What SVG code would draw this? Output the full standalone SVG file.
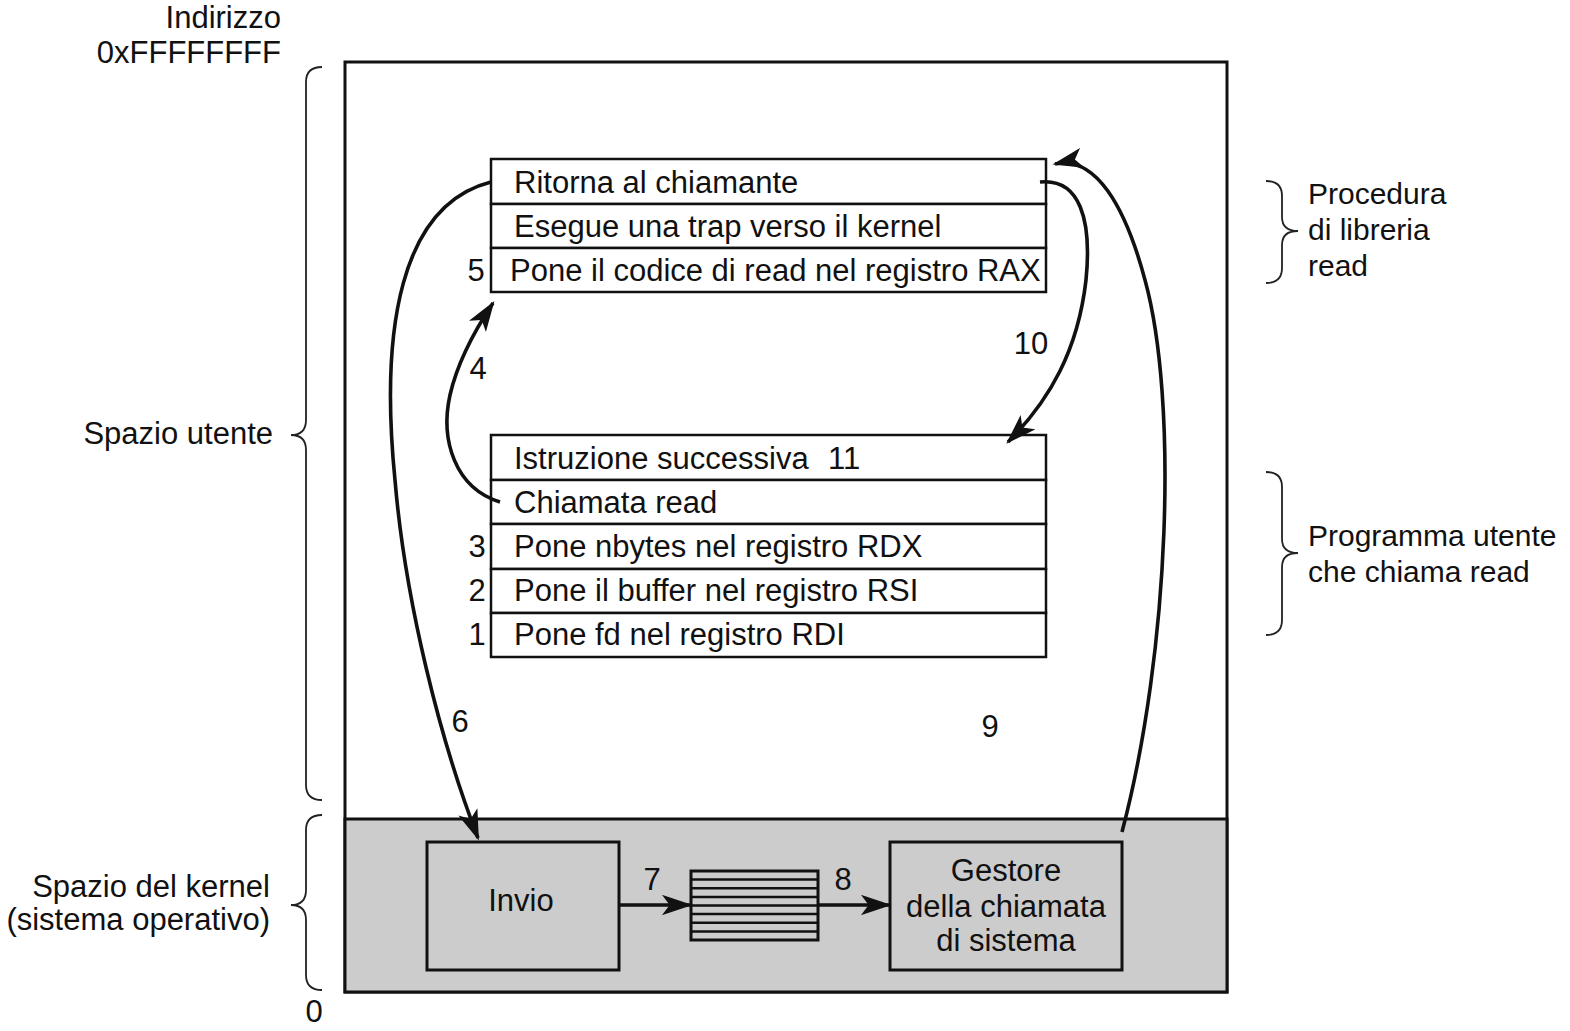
<svg xmlns="http://www.w3.org/2000/svg" width="1570" height="1031" viewBox="0 0 1570 1031">
<style>
text{font-family:"Liberation Sans",Arial,sans-serif;font-size:31px;fill:#111}
.r{font-size:30px}
.box{fill:none;stroke:#111;stroke-width:3}
.cell{fill:#fff;stroke:#111;stroke-width:2.5}
.k{fill:#cccccc;stroke:#111;stroke-width:3}
.brace{fill:none;stroke:#222;stroke-width:1.8}
.arr{fill:none;stroke:#111;stroke-width:3.6;marker-end:url(#ah)}
.mid{text-anchor:middle}
.end{text-anchor:end}
</style>
<defs>
<marker id="ah" viewBox="0 0 12 8" refX="11" refY="4" markerWidth="8.5" markerHeight="5.7" markerUnits="strokeWidth" orient="auto">
<path d="M0,0 L12,4 L0,8 L3,4 z" fill="#111"/>
</marker>
</defs>
<rect width="1570" height="1031" fill="#fff"/>
<g id="memory">
<rect class="box" x="345" y="62" width="882" height="930" fill="#fff"/>
<rect class="k" x="345" y="819" width="882" height="173"/>
</g>
<g id="labels-left">
<text class="end" x="281" y="28">Indirizzo</text>
<text class="end" x="281" y="63">0xFFFFFFFF</text>
<text class="end" x="273" y="444">Spazio utente</text>
<text class="end" x="270" y="897">Spazio del kernel</text>
<text class="end" x="270" y="930">(sistema operativo)</text>
<text class="mid" x="314" y="1022">0</text>
<path class="brace" d="M322,67 Q306,67 306,82 L306,420 Q306,435 291,435 Q306,435 306,450 L306,785 Q306,800 322,800"/>
<path class="brace" d="M322,815 Q306,815 306,830 L306,890 Q306,905 291,905 Q306,905 306,920 L306,975 Q306,990 322,990"/>
</g>
<g id="labels-right">
<path class="brace" d="M1266,181 Q1282,181 1282,196 L1282,217 Q1282,231 1298,231 Q1282,231 1282,245 L1282,268 Q1282,283 1266,283"/>
<text class="r" x="1308" y="204">Procedura</text>
<text class="r" x="1308" y="240">di libreria</text>
<text class="r" x="1308" y="276">read</text>
<path class="brace" d="M1266,472 Q1282,472 1282,487 L1282,539 Q1282,553 1298,553 Q1282,553 1282,567 L1282,620 Q1282,635 1266,635"/>
<text class="r" x="1308" y="546">Programma utente</text>
<text class="r" x="1308" y="582">che chiama read</text>
</g>
<g id="library">
<rect class="cell" x="491" y="159" width="555" height="45"/>
<rect class="cell" x="491" y="204" width="555" height="44"/>
<rect class="cell" x="491" y="248" width="555" height="44"/>
<text x="514" y="193">Ritorna al chiamante</text>
<text x="514" y="237">Esegue una trap verso il kernel</text>
<text x="510" y="281">Pone il codice di read nel registro RAX</text>
<text x="476" y="281" class="mid">5</text>
</g>
<g id="program">
<rect class="cell" x="491" y="435" width="555" height="45"/>
<rect class="cell" x="491" y="480" width="555" height="44"/>
<rect class="cell" x="491" y="524" width="555" height="45"/>
<rect class="cell" x="491" y="569" width="555" height="44"/>
<rect class="cell" x="491" y="613" width="555" height="44"/>
<text x="514" y="469">Istruzione successiva</text>
<text x="828" y="469">11</text>
<text x="514" y="513">Chiamata read</text>
<text x="514" y="557">Pone nbytes nel registro RDX</text>
<text x="514" y="601">Pone il buffer nel registro RSI</text>
<text x="514" y="645">Pone fd nel registro RDI</text>
<text x="477" y="557" class="mid">3</text>
<text x="477" y="601" class="mid">2</text>
<text x="477" y="645" class="mid">1</text>
</g>
<g id="invio">
<rect class="k" x="427" y="842" width="192" height="128"/>
<text class="mid" x="521" y="911">Invio</text>
</g>
<g id="table">
<rect x="691" y="871" width="127" height="69" fill="#ccc" stroke="#111" stroke-width="3"/>
<path d="M691,879.6H818M691,888.2H818M691,896.9H818M691,905.5H818M691,914.1H818M691,922.8H818M691,931.4H818" stroke="#111" stroke-width="2.5"/>
</g>
<g id="gestore">
<rect class="k" x="890" y="842" width="232" height="128"/>
<text class="mid" x="1006" y="881">Gestore</text>
<text class="mid" x="1006" y="917">della chiamata</text>
<text class="mid" x="1006" y="951">di sistema</text>
</g>
<g id="connectors">
<path class="arr" d="M500,502 C455,488 440,440 450,395 C458,360 475,330 493,303"/>
<path class="arr" d="M491,182 C400,205 380,330 395,480 C405,600 440,740 478,838"/>
<path class="arr" d="M1122,832 C1170,650 1178,400 1145,280 C1125,205 1095,155 1055,164"/>
<path class="arr" d="M1040,182 C1080,178 1092,220 1086,280 C1078,350 1050,400 1008,442"/>
<path class="arr" d="M619,905 H690"/>
<path class="arr" d="M818,905 H889"/>
<text x="478" y="379" class="mid">4</text>
<text x="460" y="732" class="mid">6</text>
<text x="652" y="890" class="mid">7</text>
<text x="843" y="890" class="mid">8</text>
<text x="990" y="737" class="mid">9</text>
<text x="1031" y="354" class="mid">10</text>
</g>
</svg>
